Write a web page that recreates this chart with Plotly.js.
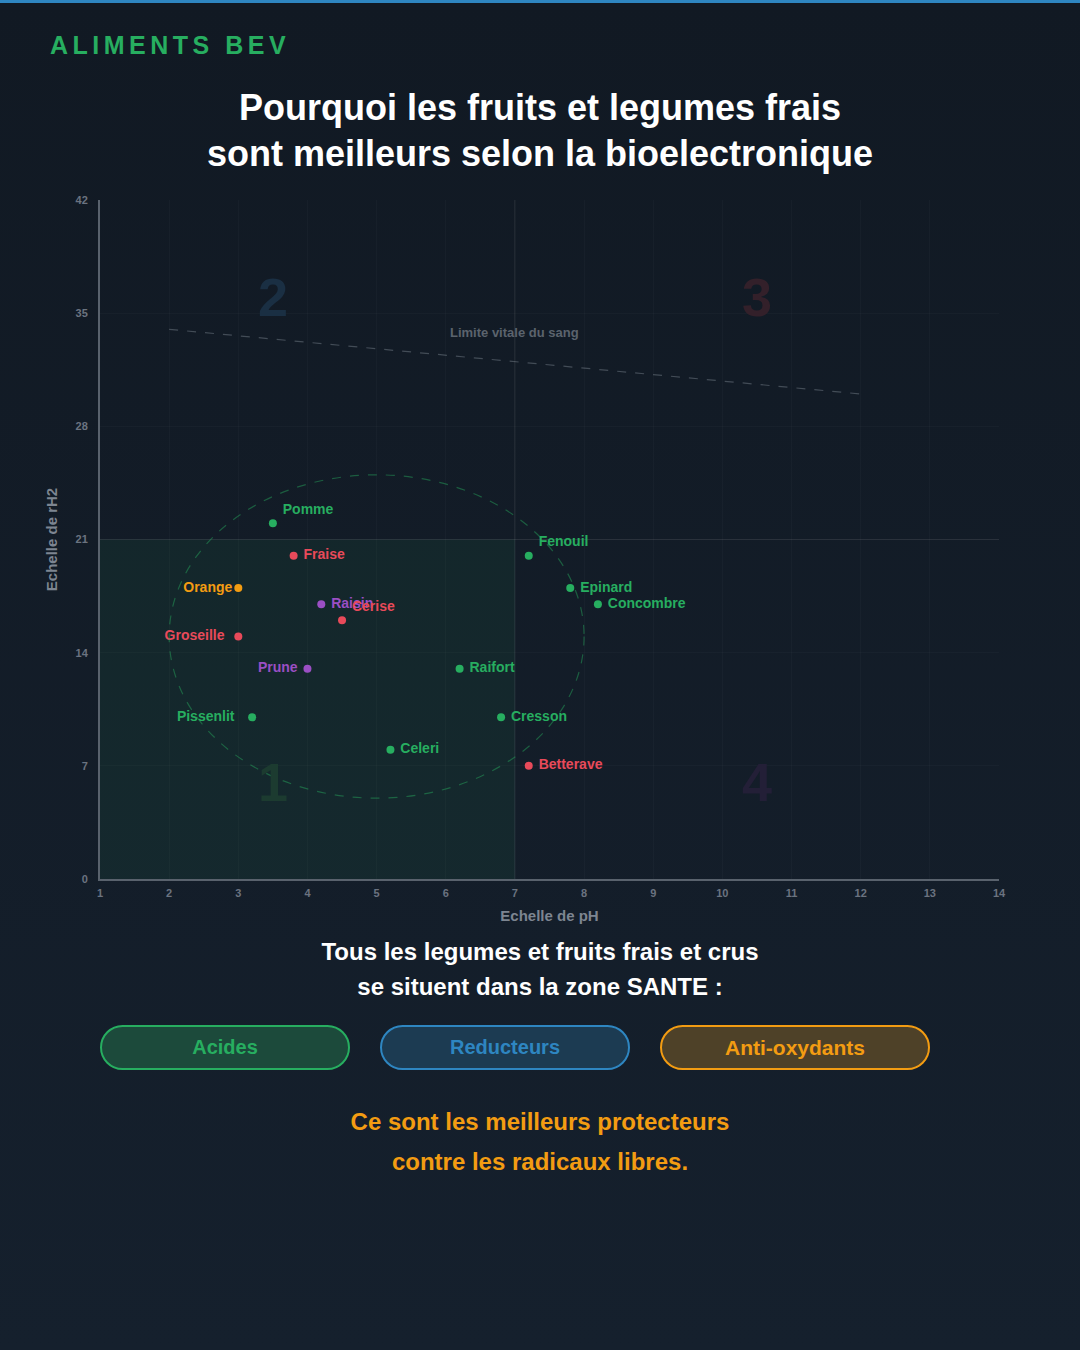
<!DOCTYPE html>
<html>
<head>
<meta charset="utf-8">
<script src="https://cdn.plot.ly/plotly-3.0.1.min.js"></script>
<style>
	html, body { margin: 0; padding: 0; }
	body {
		width: 1080px; height: 1350px; position: relative; overflow: hidden;
		background: linear-gradient(180deg, #111923 0%, #15202d 100%);
		font-family: 'Liberation Sans', Arial, sans-serif;
	}
	#topbar { position: absolute; left: 0; top: 0; width: 1080px; height: 3px; background: #2e86c1; }
	#brand { position: absolute; left: 50px; top: 31px; font-size: 25px; font-weight: bold; letter-spacing: 4.5px; color: #27ae60; }
	#title { position: absolute; left: 0; top: 85px; width: 1080px; text-align: center; color: #fff; font-size: 36px; font-weight: bold; line-height: 46px; }
	#chart { position: absolute; left: 0; top: 0; width: 1080px; height: 960px; }
	#sub { position: absolute; left: 0; top: 934px; width: 1080px; text-align: center; color: #fff; font-size: 24px; font-weight: bold; line-height: 35px; }
	.pill { position: absolute; top: 1025px; height: 41px; border: 2px solid; border-radius: 23px; text-align: center; line-height: 41px; font-size: 20px; font-weight: bold; }
	#closing { position: absolute; left: 0; top: 1102px; width: 1080px; text-align: center; color: #f39c12; font-size: 24px; font-weight: bold; line-height: 40px; }
</style>
</head>
<body>
<div id="topbar"></div>
<div id="brand">ALIMENTS BEV</div>
<div id="title">Pourquoi les fruits et legumes frais<br>sont meilleurs selon la bioelectronique</div>
<div id="chart"></div>
<div id="sub">Tous les legumes et fruits frais et crus<br>se situent dans la zone SANTE :</div>
<div class="pill" style="left:100px;width:246px;color:#27ae60;border-color:#27ae60;background:#1c4a3b;">Acides</div>
<div class="pill" style="left:380px;width:246px;color:#2e86c1;border-color:#2e86c1;background:#1c3b52;">Reducteurs</div>
<div class="pill" style="left:660px;width:266px;color:#f39c12;border-color:#f39c12;background:#4e4128;font-size:21px;">Anti-oxydants</div>
<div id="closing">Ce sont les meilleurs protecteurs<br>contre les radicaux libres.</div>
<script>
// aliments (pH, rH2)
var names = ['Pomme', 'Fraise', 'Orange', 'Raisin', 'Cerise', 'Groseille', 'Prune', 'Pissenlit', 'Celeri', 'Raifort', 'Cresson', 'Betterave', 'Fenouil', 'Epinard', 'Concombre'];
var ph = [3.5, 3.8, 3.0, 4.2, 4.5, 3.0, 4.0, 3.2, 5.2, 6.2, 6.8, 7.2, 7.2, 7.8, 8.2];
var rh2 = [22, 20, 18, 17, 16, 15, 13, 10, 8, 13, 10, 7, 20, 18, 17];
var groups = ['vert', 'rouge', 'orange', 'violet', 'rouge', 'rouge', 'violet', 'vert', 'vert', 'vert', 'vert', 'rouge', 'vert', 'vert', 'vert'];

// limite vitale du sang
var limitePh = [2, 12];
var limiteRh2 = [34, 30];

var xTicks = [1, 2, 3, 4, 5, 6, 7, 8, 9, 10, 11, 12, 13, 14];
var yTicks = [0, 7, 14, 21, 28, 35, 42];

var groupColors = {vert: '#27ae60', rouge: '#e84a5a', orange: '#f39c12', violet: '#9b4fc4'};
// nom a gauche du point, avec l'ecart voulu (en espaces)
var leftGap = {Orange: 0, Prune: 1, Groseille: 2, Pissenlit: 3};
var topLabels = ['Pomme', 'Fenouil', 'Cerise'];

var colors = groups.map(g => groupColors[g]);
var positions = names.map(n => {
	if (n in leftGap) return 'middle left';
	if (topLabels.indexOf(n) >= 0) return 'top right';
	return 'middle right';
});
var labels = names.map(n => {
	if (n in leftGap) return n + '\u00a0'.repeat(leftGap[n]);
	return '\u00a0' + n;
});

var data = [
	{
		type: 'scatter',
		mode: 'lines',
		x: limitePh,
		y: limiteRh2,
		line: {color: 'rgba(140,150,160,0.4)', width: 1.2, dash: 'dash'},
		hoverinfo: 'skip'
	},
	{
		type: 'scatter',
		mode: 'markers+text',
		x: ph,
		y: rh2,
		text: labels,
		textposition: positions,
		textfont: {family: 'Liberation Sans, Arial', size: 14, color: colors, weight: 'bold'},
		marker: {size: 8, color: colors},
		cliponaxis: false
	}
];

var numFont = {family: 'Liberation Sans, Arial', size: 54, weight: 'bold'};
var layout = {
	width: 1080,
	height: 960,
	showlegend: false,
	paper_bgcolor: 'rgba(0,0,0,0)',
	plot_bgcolor: 'rgba(0,0,0,0)',
	margin: {l: 100, r: 81, t: 200, b: 81},
	font: {family: 'Liberation Sans, Arial', color: '#6b7380'},
	xaxis: {
		range: [1, 14],
		tickvals: xTicks,
		showgrid: true,
		gridcolor: 'rgba(255,255,255,0.022)',
		zeroline: false,
		showline: true,
		linecolor: '#59626d',
		linewidth: 2,
		ticks: 'outside',
		ticklen: 3,
		tickcolor: 'rgba(0,0,0,0)',
		tickfont: {size: 11, color: '#6b7380', weight: 'bold'},
		title: {text: 'Echelle de pH', font: {size: 15, color: '#7d8591', weight: 'bold'}, standoff: 12}
	},
	yaxis: {
		range: [0, 42],
		tickvals: yTicks,
		showgrid: true,
		gridcolor: 'rgba(255,255,255,0.022)',
		zeroline: false,
		showline: true,
		linecolor: '#59626d',
		linewidth: 2,
		ticks: 'outside',
		ticklen: 8,
		tickcolor: 'rgba(0,0,0,0)',
		tickfont: {size: 11, color: '#6b7380', weight: 'bold'},
		title: {text: 'Echelle de rH2', font: {size: 15, color: '#7d8591', weight: 'bold'}, standoff: 14}
	},
	shapes: [
		{type: 'rect', xref: 'x', yref: 'y', x0: 1, x1: 7, y0: 0, y1: 21, fillcolor: 'rgba(39,174,96,0.08)', line: {width: 0}, layer: 'below'},
		{type: 'line', xref: 'x', yref: 'y', x0: 7, x1: 7, y0: 0, y1: 42, line: {color: 'rgba(255,255,255,0.08)', width: 1}, layer: 'below'},
		{type: 'line', xref: 'x', yref: 'y', x0: 1, x1: 14, y0: 21, y1: 21, line: {color: 'rgba(255,255,255,0.08)', width: 1}, layer: 'below'},
		{type: 'circle', xref: 'x', yref: 'y', x0: 2, x1: 8, y0: 5, y1: 25, line: {color: 'rgba(39,174,96,0.45)', width: 1.2, dash: 'dash'}}
	],
	annotations: [
		{x: 3.5, y: 36, text: '2', showarrow: false, font: Object.assign({color: '#1a2f43'}, numFont)},
		{x: 10.5, y: 36, text: '3', showarrow: false, font: Object.assign({color: '#33202a'}, numFont)},
		{x: 3.5, y: 6, text: '1', showarrow: false, font: Object.assign({color: '#1c3b30'}, numFont)},
		{x: 10.5, y: 6, text: '4', showarrow: false, font: Object.assign({color: '#231f37'}, numFont)},
		{x: 7, y: 33.8, text: 'Limite vitale du sang', showarrow: false, font: {size: 13, color: '#5b636d', weight: 'bold'}}
	]
};

Plotly.newPlot('chart', data, layout, {displayModeBar: false, staticPlot: true});
</script>
</body>
</html>
